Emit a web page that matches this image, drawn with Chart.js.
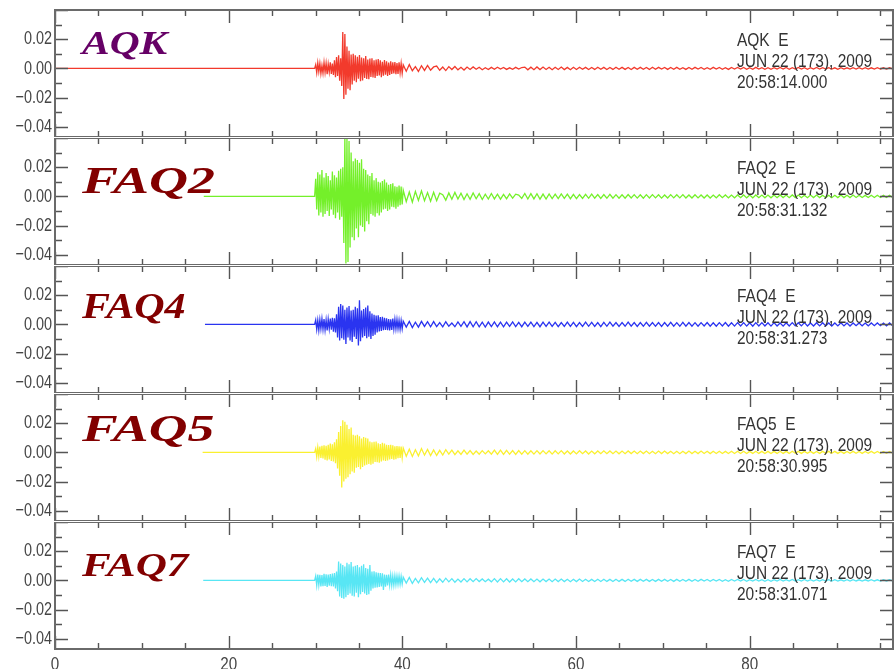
<!DOCTYPE html>
<html>
<head>
<meta charset="utf-8">
<script src="https://cdn.jsdelivr.net/npm/chart.js@4.4.1/dist/chart.umd.min.js"></script>
<style>
  html, body { margin: 0; padding: 0; background: #fff; }
  #wrap { position: relative; width: 895px; height: 669px; overflow: hidden; background: #fff; }
  #wrap canvas { position: absolute; left: 0; }
</style>
</head>
<body>
<div id="wrap"></div>
<script>
// stations, header text and trace start (s after 20:58:14.000)
const stations = ['AQK', 'FAQ2', 'FAQ4', 'FAQ5', 'FAQ7']
const component = 'E'
const dateLabel = 'JUN 22 (173), 2009'
const startLabels = ['20:58:14.000', '20:58:31.132', '20:58:31.273', '20:58:30.995', '20:58:31.071']
const traceStart = [0, 17.13, 17.27, 17.0, 17.07]

const xTickLabels = [0, 20, 40, 60, 80]
const yTickLabels = [-0.04, -0.02, 0.00, 0.02]

// samples in units of 1e-4
const ampUnit = 1e-4
const onsetTime = 29.9, onsetStep = 0.12
const codaTime = 40.1, codaStep = 0.35

const aqkOnset = [
    0, 25, -30, 38, -22, 34, -36, 20, -33, 40,
    -28, 35, -40, 30, -26, 42, -38, 33, -45, 55,
    -60, 78, -52, 90, -85, 70, -120, 250, -210, 235,
    -180, 150, -140, 120, -150, 95, -110, 100, -85, 90,
    -95, 80, -70, 92, -88, 75, -82, 70, -65, 85,
    -72, 60, -75, 68, -58, 70, -62, 55, -66, 60,
    -52, 64, -48, 55, -60, 45, -50, 58, -44, 48,
    -52, 40, -45, 48, -38, 42, -35, 44, -40, 36,
    -38, 42, -30, 35, -33
]
const aqkCoda = [
    24, -20, 26, -16, 12, -21, 18, -14, 20, -12,
    10, 16, -13, 9, -15, 12, -8, 13, -10, 7,
    -11, 9, -7, 10, -6, 8, -9, 5, -8, 7,
    -6, 8, -5, 6, -7, 4, -6, 7, -5, 6,
    9, -10, 8, -9, 10, -8, 9, -7, 8, -9,
    8, -7, 9, -8, 7, -9, 8, -7, 8, -6,
    7, -8, 6, -7, 8, -6, 7, -8, 6, -7,
    8, -6, 7, -7, 6, -8, 7, -6, 7, -6,
    6, -7, 8, -6, 7, -5, 6, -7, 6, -6,
    7, -6, 5, -7, 6, -6, 7, -5, 6, -6,
    5, -6, 7, -5, 6, -6, 5, -7, 6, -5,
    6, -5, 6, -6, 5, -6, 7, -5, 5, -6,
    5, -6, 5, -5, 6, -5, 6, -6, 5, -5,
    6, -5, 5, -6, 5, -5, 6, -4, 5, -5,
    5, -5, 4, -6, 5, -5, 4, -5, 5, -4,
    5, -4, 5, -5, 4, -5, 5, -4, 4, -5, 4, -4
]

const faq2Onset = [
    0, 120, -90, 165, -130, 150, -110, 180, -140, 130,
    -120, 160, -100, 140, -135, 110, -90, 170, -125, 145,
    -150, 130, -110, 175, -160, 190, -140, 200, -320, 420,
    -460, 400, -450, 380, -350, 300, -280, 240, -300, 260,
    -220, 250, -280, 230, -200, 255, -210, 190, -240, 180,
    -170, 150, -190, 140, -120, 160, -130, 110, -140, 125,
    -115, 100, -130, 95, -110, 105, -90, 115, -85, 95,
    -100, 80, -90, 85, -70, 90, -75, 70, -85, 65,
    -70, 75, -60, 68, -55
]
const faq2Coda = [
    42, -36, 30, -40, 34, -28, 38, -30, 26, -33,
    28, -30, 22, 12, -26, 24, -20, 27, -18, 22,
    -22, 18, -20, 24, -16, 19, -21, 15, -18, 20,
    -17, 15, -19, 13, -16, 17, -12, 15, 9, -14,
    20, -18, 19, -17, 18, -19, 16, -18, 17, -15,
    16, -15, 17, -14, 15, -16, 14, -15, 13, -14,
    14, -13, 15, -12, 13, -14, 12, -13, 14, -12,
    12, -13, 11, -12, 13, -11, 12, -12, 11, -13,
    12, -11, 12, -10, 11, -12, 10, -11, 12, -10,
    11, -10, 12, -11, 10, -11, 11, -10, 10, -11,
    10, -11, 9, -10, 11, -9, 10, -10, 9, -10,
    10, -9, 10, -10, 9, -10, 10, -9, 9, -10,
    9, -10, 9, -9, 10, -8, 9, -9, 10, -8,
    9, -9, 8, -9, 9, -8, 9, -8, 8, -9,
    8, -9, 8, -8, 9, -8, 8, -8, 9, -7,
    8, -8, 7, -8, 8, -7, 8, -7, 7, -8, 8, -7
]

const faq4Onset = [
    0, 30, -35, 28, -40, 32, -30, 38, -34, 36,
    -38, 30, -42, 35, -30, 40, -36, 45, -50, 42,
    -55, 70, -90, 120, -110, 140, -95, 130, -105, 100,
    -135, 115, -90, 125, -110, 95, -120, 100, -85, 120,
    -100, 110, -145, 165, -115, 95, -90, 105, -80, 115,
    -95, 130, -85, 90, -100, 75, -80, 65, -70, 60,
    -55, 62, -48, 50, -45, 52, -40, 45, -38, 42,
    -40, 36, -42, 34, -38, 40, -32, 35, -30, 33,
    -30, 28, -33, 26, -30
]
const faq4Coda = [
    22, -18, 20, -22, 15, -19, 21, -14, 18, -16,
    19, -15, 12, -17, 18, -13, 9, -16, 17, -14,
    18, -17, 19, -16, 18, -17, 15, -18, 16, -15,
    17, -16, 15, -17, 16, -14, 17, -15, 14, -16,
    15, -14, 16, -15, 14, -16, 15, -13, 16, -14,
    14, -15, 13, -14, 16, -13, 14, -15, 13, -14,
    15, -13, 14, -14, 13, -15, 14, -13, 15, -12,
    13, -14, 12, -13, 15, -12, 13, -14, 12, -13,
    14, -12, 13, -13, 12, -14, 13, -12, 14, -12,
    12, -13, 14, -12, 13, -12, 12, -13, 12, -11,
    13, -12, 11, -13, 12, -11, 13, -12, 11, -12,
    12, -11, 12, -12, 11, -13, 12, -11, 12, -11,
    11, -12, 12, -11, 10, -12, 11, -11, 12, -10,
    11, -10, 12, -11, 10, -11, 11, -10, 11, -10,
    10, -11, 10, -10, 11, -10, 10, -11, 10, -9,
    10, -10, 9, -10, 10, -9, 10, -9, 9, -10, 10, -9
]

const faq5Onset = [
    0, 25, -30, 35, -28, 40, -38, 45, -42, 48,
    -50, 45, -55, 52, -48, 60, -58, 55, -62, 70,
    -75, 90, -110, 140, -160, 180, -240, 220, -200, 210,
    -180, 190, -170, 160, -150, 170, -130, 120, -140, 115,
    -105, 120, -100, 110, -115, 95, -100, 105, -90, 100,
    -85, 95, -80, 75, -85, 70, -78, 72, -65, 75,
    -68, 62, -70, 58, -62, 65, -55, 60, -58, 52,
    -55, 50, -48, 52, -45, 48, -50, 42, -46, 44,
    -40, 42, -38, 40, -36
]
const faq5Coda = [
    30, -26, 22, -28, 18, -24, 26, -19, 20, -22,
    17, -21, 14, -18, 19, -12, 16, -15, 11, -14,
    15, -12, 13, -14, 9, -13, 12, -10, 11, -12,
    15, -14, 16, -13, 14, -13, 12, -14, 13, -12,
    12, -13, 11, -12, 12, -11, 12, -10, 11, -12,
    11, -10, 12, -11, 10, -11, 10, -10, 11, -9,
    10, -11, 9, -10, 10, -9, 11, -9, 10, -9,
    9, -10, 9, -9, 10, -8, 9, -9, 9, -8,
    9, -9, 8, -9, 9, -8, 9, -8, 8, -9,
    8, -9, 8, -8, 9, -8, 8, -8, 9, -7,
    8, -8, 8, -7, 8, -8, 7, -8, 8, -7,
    8, -7, 8, -8, 7, -7, 8, -7, 7, -8,
    7, -8, 7, -7, 8, -7, 7, -7, 8, -6,
    7, -7, 7, -6, 7, -7, 6, -7, 7, -6,
    7, -6, 7, -7, 6, -7, 6, -6, 7, -6,
    6, -7, 6, -6, 7, -6, 6, -6, 6, -6, 6, -6
]

const faq7Onset = [
    0, 30, -35, 40, -32, 38, -42, 36, -40, 45,
    -38, 42, -45, 40, -36, 44, -40, 46, -42, 50,
    -55, 60, -75, 130, -110, 115, -120, 105, -125, 95,
    -115, 120, -100, 110, -90, 125, -105, 95, -110, 100,
    -85, 105, -115, 90, -95, 100, -80, 110, -90, 85,
    -100, 80, -95, 105, -70, 60, -55, 62, -50, 55,
    -48, 52, -45, 50, -42, 48, -65, 40, -44, 38,
    -35, 40, -32, 36, -34, 30, -33, 32, -28, 30,
    -27, 30, -26, 28, -25
]
const faq7Coda = [
    22, -18, 20, -21, 14, -17, 19, -13, 16, -15,
    14, -16, 11, -13, 15, -10, 12, -13, 9, -11,
    12, -10, 11, -9, 12, -8, 10, -9, 8, -10,
    12, -11, 12, -10, 11, -11, 10, -10, 11, -9,
    10, -9, 10, -9, 9, -10, 9, -8, 9, -9,
    9, -8, 9, -8, 8, -9, 8, -8, 9, -7,
    8, -8, 7, -8, 8, -7, 8, -7, 7, -8,
    8, -7, 7, -7, 8, -6, 7, -7, 7, -6,
    7, -7, 6, -7, 7, -6, 7, -6, 6, -7,
    7, -6, 6, -6, 7, -6, 6, -6, 7, -5,
    6, -6, 6, -5, 6, -6, 5, -6, 6, -5,
    6, -5, 6, -6, 5, -5, 6, -5, 5, -6,
    5, -6, 5, -5, 6, -5, 5, -5, 6, -5,
    5, -5, 6, -5, 5, -5, 5, -4, 5, -5,
    5, -4, 5, -5, 4, -5, 5, -4, 5, -4,
    4, -5, 4, -4, 5, -4, 4, -5, 4, -4, 4, -4
]

const onsets = [aqkOnset, faq2Onset, faq4Onset, faq5Onset, faq7Onset]
const codas = [aqkCoda, faq2Coda, faq4Coda, faq5Coda, faq7Coda]

const traceColors = ['#f23a2c', '#74f02a', '#2a34f0', '#faf030', '#58e6f4']
const nameColors = ['#660066', '#820000', '#820000', '#820000', '#820000']
// font size, horizontal stretch, baseline offset from panel top
const nameStyle = [[34, 1.22, 44], [37, 1.46, 55], [35, 1.2, 52], [37, 1.45, 47], [34, 1.27, 54]]

const panelTops = [10, 138, 266, 394, 522]
const panelHeight = 127
const plotRight = 893
const xMax = 96.5
const yMin = -0.047, yMax = 0.04
const sans = '"Liberation Sans", Arial, sans-serif'

const buildTrace = (i) => {
    const pts = [{ x: traceStart[i], y: 0 }]
    onsets[i].forEach((v, k) => pts.push({ x: onsetTime + k * onsetStep, y: v * ampUnit }))
    codas[i].forEach((v, k) => pts.push({ x: codaTime + k * codaStep, y: v * ampUnit }))
    return pts
}

const fmtY = (v) => (v < -1e-9 ? '\u2212' : '') + Math.abs(v).toFixed(2)

// condensed text: the plot used a narrow Helvetica-like face
const drawText = (ctx, text, x, y, align, sx) => {
    ctx.save()
    ctx.translate(x, y)
    ctx.scale(sx, 1)
    ctx.textAlign = align
    ctx.fillText(text, 0, 0)
    ctx.restore()
}

// frame, inward ticks, tick labels and station text
const panelDecor = {
    id: 'panelDecor',
    afterDraw(chart) {
        const { ctx, chartArea: a, scales: { x, y } } = chart
        const i = chart.options.plugins.panelDecor.index
        const last = i === stations.length - 1
        ctx.save()

        ctx.strokeStyle = '#555'
        ctx.lineWidth = 1.4
        ctx.beginPath()
        x.ticks.forEach(t => {
            const px = Math.round(x.getPixelForValue(t.value)) + 0.5
            const len = xTickLabels.includes(t.value) ? 13 : 6
            ctx.moveTo(px, a.top); ctx.lineTo(px, a.top + len)
            ctx.moveTo(px, a.bottom); ctx.lineTo(px, a.bottom - len)
        })
        y.ticks.forEach(t => {
            const py = Math.round(y.getPixelForValue(t.value)) + 0.5
            const len = Math.round(t.value * 100) % 2 === 0 ? 13 : 7
            ctx.moveTo(a.left, py); ctx.lineTo(a.left + len, py)
            ctx.moveTo(a.right, py); ctx.lineTo(a.right - len, py)
        })
        ctx.stroke()

        ctx.strokeStyle = '#6a6a6a'
        ctx.lineWidth = 2
        ctx.strokeRect(a.left, a.top, a.right - a.left, a.bottom - a.top)

        // tick labels
        ctx.fillStyle = '#454545'
        ctx.font = `19px ${sans}`
        ctx.textBaseline = 'middle'
        yTickLabels.forEach(v => drawText(ctx, fmtY(v), a.left - 3, y.getPixelForValue(v), 'right', 0.76))
        if (last) {
            ctx.textBaseline = 'top'
            xTickLabels.forEach(v => drawText(ctx, String(v), x.getPixelForValue(v), a.bottom + 6, 'center', 0.8))
        }

        // station name
        const [size, stretch, base] = nameStyle[i]
        ctx.fillStyle = nameColors[i]
        ctx.font = `italic bold ${size}px "Liberation Serif", "DejaVu Serif", serif`
        ctx.textBaseline = 'alphabetic'
        drawText(ctx, stations[i], 82, a.top + base, 'left', stretch)

        // header block
        ctx.fillStyle = '#333'
        ctx.font = `18px ${sans}`
        ctx.textBaseline = 'middle'
        const tx = 737, ty = a.top + 31
        drawText(ctx, stations[i] + '  ' + component, tx, ty, 'left', 0.86)
        drawText(ctx, dateLabel, tx, ty + 21, 'left', 0.86)
        drawText(ctx, startLabels[i], tx, ty + 42, 'left', 0.86)
        ctx.restore()
    }
}

const wrap = document.getElementById('wrap')

stations.forEach((name, i) => {
    const last = i === stations.length - 1
    const top = i === 0 ? 0 : panelTops[i]
    const h = panelHeight + (i === 0 ? panelTops[0] : 0) + (last ? 20 : 0)
    const canvas = document.createElement('canvas')
    canvas.width = 895
    canvas.height = h
    canvas.style.top = top + 'px'
    canvas.style.width = '895px'
    canvas.style.height = h + 'px'
    wrap.appendChild(canvas)

    new Chart(canvas, {
        type: 'line',
        data: {
            datasets: [{
                label: name,
                data: buildTrace(i),
                borderColor: traceColors[i],
                borderWidth: 1.3,
                pointRadius: 0,
                tension: 0,
                fill: false
            }]
        },
        options: {
            responsive: false,
            animation: false,
            events: [],
            layout: { padding: { top: i === 0 ? panelTops[0] : 0, right: 895 - plotRight, left: 0, bottom: 0 } },
            plugins: {
                legend: { display: false },
                tooltip: { enabled: false },
                panelDecor: { index: i }
            },
            scales: {
                x: {
                    type: 'linear',
                    min: 0,
                    max: xMax,
                    ticks: { stepSize: 5, includeBounds: false, display: false },
                    grid: { display: false, drawTicks: false },
                    border: { display: false },
                    afterFit: s => { s.height = last ? 20 : 0 }
                },
                y: {
                    min: yMin,
                    max: yMax,
                    ticks: { stepSize: 0.01, includeBounds: false, display: false },
                    grid: { display: false, drawTicks: false },
                    border: { display: false },
                    afterFit: s => { s.width = 55 }
                }
            }
        },
        plugins: [panelDecor]
    })
})
</script>
</body>
</html>
